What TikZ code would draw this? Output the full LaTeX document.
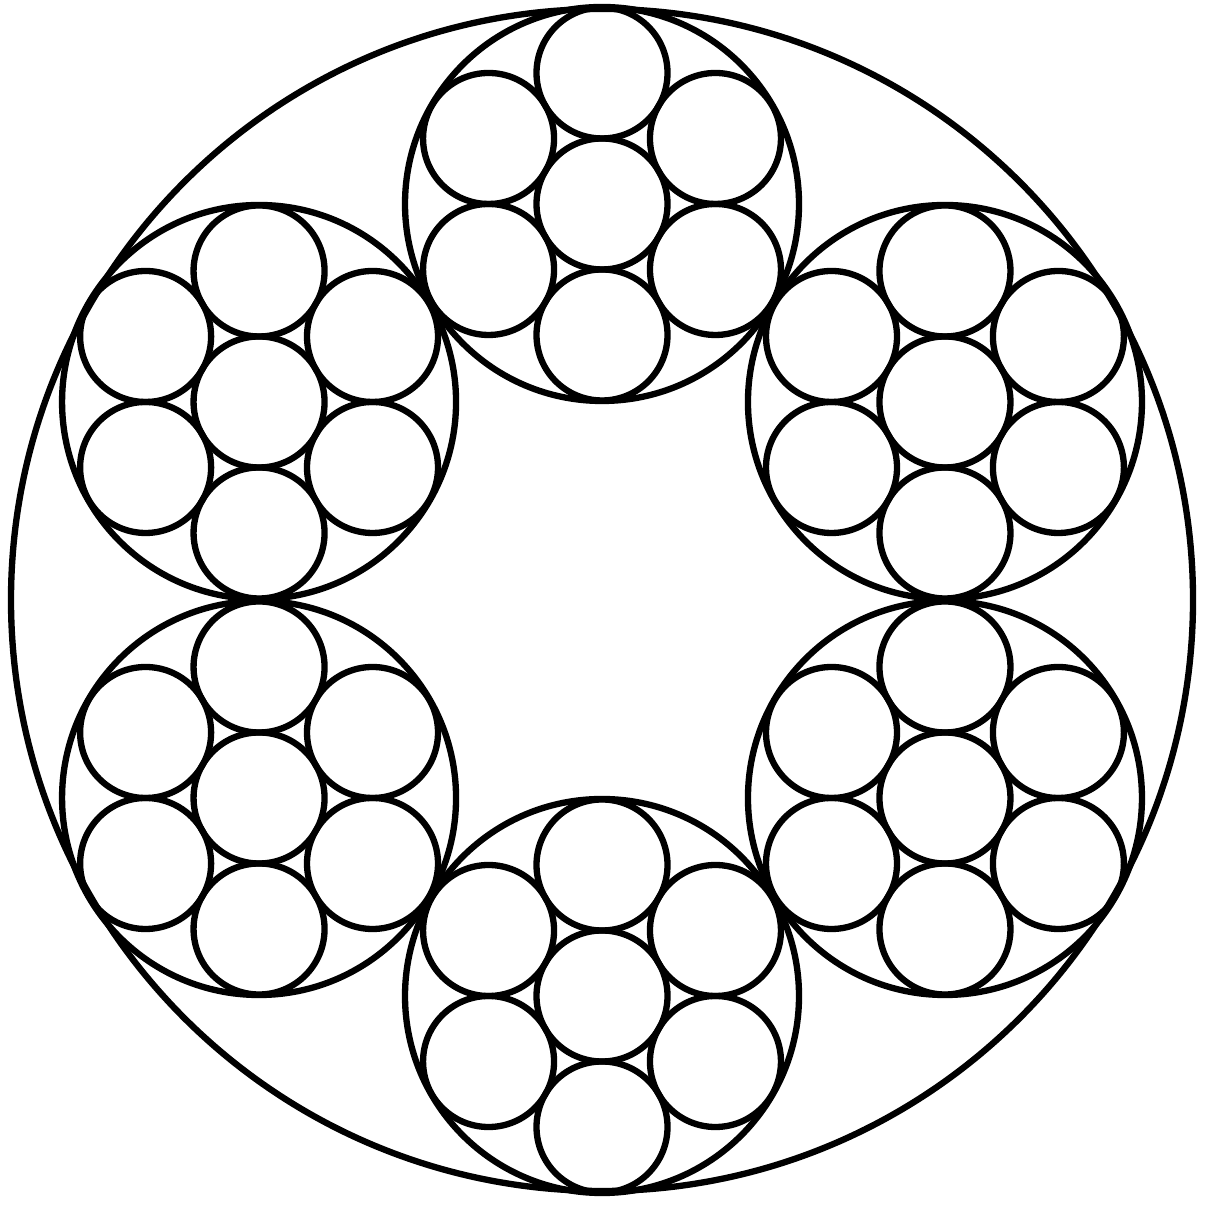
\documentclass[tikz,border=0pt]{standalone}
\begin{document}
\begin{tikzpicture}[line join=round, line cap=round, line width=1.8pt]
	\tikzset{wire/.style={draw=black}}
	\useasboundingbox (0,0) rectangle (12.05,12.05);
	\begin{scope}[shift={(6.02,6.05)}]
		\draw[wire] (0,0) circle (5.91);
		% six strands, each 1+6 wires
		\foreach \a in {90,30,...,-210}{
			\begin{scope}[shift={(\a:3.96)}]
				\draw[wire] (0,0) circle (1.97);
				\draw[wire] (0,0) circle (0.655);
				\foreach \b in {90,150,...,390}
					\draw[wire] (\b:1.31) circle (0.655);
			\end{scope}
		}
	\end{scope}
\end{tikzpicture}
\end{document}
